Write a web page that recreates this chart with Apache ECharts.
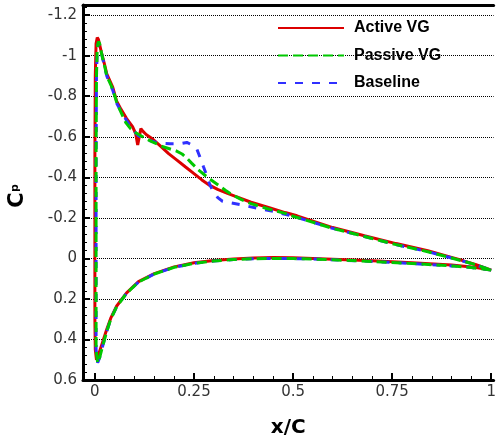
<!DOCTYPE html>
<html>
<head>
<meta charset="utf-8">
<script src="https://cdn.jsdelivr.net/npm/echarts@6/dist/echarts.min.js"></script>
<style>
html,body{margin:0;padding:0;background:#fff;}
#chart{width:499px;height:443px;}
</style>
</head>
<body>
<div id="chart"></div>
<script>
// ---- data (x/C, Cp) ----
var seriesNames = ['Active VG', 'Passive VG', 'Baseline'];

var activeLower = [[0.004,0.50],[0.01,0.47],[0.02,0.41],[0.03,0.35],[0.04,0.295],[0.055,0.235],[0.08,0.17],[0.11,0.115],[0.15,0.075],[0.2,0.042],[0.25,0.022],[0.3,0.01],[0.35,0.003],[0.4,-0.002],[0.45,-0.004],[0.5,-0.003],[0.55,0.0],[0.6,0.004],[0.7,0.012],[0.8,0.022],[0.9,0.033],[0.95,0.042],[1.0,0.058]];
var activeUpper = [[0.004,0.50],[0.001,0.45],[0.0,0.3],[0.0,0.0],[0.0,-0.5],[0.001,-0.9],[0.003,-1.06],[0.006,-1.09],[0.009,-1.08],[0.016,-1.02],[0.024,-0.96],[0.03,-0.91],[0.045,-0.845],[0.055,-0.775],[0.066,-0.735],[0.08,-0.69],[0.095,-0.65],[0.103,-0.615],[0.108,-0.56],[0.11,-0.552],[0.113,-0.61],[0.116,-0.64],[0.122,-0.625],[0.13,-0.61],[0.145,-0.59],[0.165,-0.555],[0.186,-0.517],[0.207,-0.485],[0.228,-0.452],[0.25,-0.418],[0.27,-0.387],[0.29,-0.36],[0.311,-0.339],[0.333,-0.322],[0.353,-0.307],[0.394,-0.277],[0.44,-0.25],[0.48,-0.226],[0.51,-0.21],[0.6,-0.152],[0.68,-0.112],[0.76,-0.073],[0.84,-0.038],[0.9,-0.005],[0.93,0.012],[0.96,0.03],[1.0,0.058]];

var passiveLower = [[0.007,0.515],[0.012,0.49],[0.02,0.43],[0.03,0.36],[0.04,0.30],[0.055,0.238],[0.08,0.172],[0.11,0.117],[0.15,0.077],[0.2,0.044],[0.25,0.025],[0.3,0.013],[0.35,0.006],[0.4,0.002],[0.45,0.0],[0.5,0.001],[0.55,0.003],[0.6,0.007],[0.7,0.015],[0.8,0.025],[0.9,0.037],[0.95,0.045],[1.0,0.058]];
var passiveUpper = [[0.007,0.515],[0.003,0.45],[0.003,0.0],[0.003,-0.5],[0.004,-0.9],[0.006,-1.04],[0.009,-1.07],[0.012,-1.06],[0.018,-1.0],[0.025,-0.945],[0.03,-0.9],[0.045,-0.835],[0.055,-0.77],[0.066,-0.72],[0.078,-0.67],[0.09,-0.64],[0.103,-0.62],[0.125,-0.595],[0.145,-0.575],[0.17,-0.552],[0.186,-0.542],[0.205,-0.53],[0.22,-0.515],[0.232,-0.495],[0.244,-0.47],[0.261,-0.437],[0.286,-0.397],[0.311,-0.362],[0.33,-0.335],[0.344,-0.316],[0.37,-0.29],[0.394,-0.27],[0.436,-0.245],[0.48,-0.222],[0.5,-0.208],[0.6,-0.148],[0.68,-0.108],[0.76,-0.068],[0.84,-0.033],[0.9,-0.002],[0.95,0.025],[1.0,0.058]];

var baselineLower = [[0.007,0.515],[0.012,0.49],[0.02,0.43],[0.03,0.36],[0.04,0.30],[0.055,0.238],[0.08,0.172],[0.11,0.117],[0.15,0.077],[0.2,0.044],[0.25,0.025],[0.3,0.013],[0.35,0.006],[0.4,0.002],[0.45,0.0],[0.5,0.001],[0.55,0.003],[0.6,0.007],[0.7,0.015],[0.8,0.025],[0.9,0.037],[0.95,0.045],[1.0,0.058]];
var baselineUpper = [[0.007,0.515],[0.003,0.45],[0.003,0.0],[0.003,-0.5],[0.004,-0.9],[0.006,-1.03],[0.009,-1.065],[0.012,-1.06],[0.018,-1.0],[0.025,-0.94],[0.03,-0.9],[0.045,-0.83],[0.055,-0.765],[0.066,-0.725],[0.08,-0.68],[0.095,-0.635],[0.11,-0.605],[0.125,-0.59],[0.14,-0.58],[0.155,-0.572],[0.17,-0.568],[0.19,-0.566],[0.215,-0.566],[0.232,-0.572],[0.245,-0.56],[0.257,-0.54],[0.265,-0.5],[0.274,-0.452],[0.282,-0.41],[0.29,-0.363],[0.299,-0.33],[0.31,-0.3],[0.322,-0.282],[0.336,-0.276],[0.37,-0.264],[0.41,-0.247],[0.45,-0.232],[0.5,-0.208],[0.6,-0.148],[0.68,-0.108],[0.76,-0.068],[0.84,-0.033],[0.9,-0.002],[0.95,0.025],[1.0,0.058]];

var xTickValues = [0, 0.25, 0.5, 0.75, 1];
var yTickValues = [-1.2, -1, -0.8, -0.6, -0.4, -0.2, 0, 0.2, 0.4, 0.6];

// ---- helpers ----
function loop(lower, upper) { return lower.slice().reverse().concat(upper); }
function minorTicks(start, end, step, majors) {
  var out = [];
  var n = Math.round((end - start) / step);
  for (var i = 0; i <= n; i++) {
    var v = Math.round((start + i * step) * 1000) / 1000;
    var isMajor = majors.some(function (m) { return Math.abs(m - v) < 1e-6; });
    if (!isMajor) out.push(v);
  }
  return out;
}
var xMinor = minorTicks(0, 1, 0.05, xTickValues);
var yMinor = minorTicks(-1.24, 0.56, 0.04, yTickValues);

var labelFont = { fontFamily: 'DejaVu Sans', fontSize: 15, color: '#333' };
var XMIN = -0.03, XMAX = 1.006, YMIN = -1.25, YMAX = 0.6;

var chart = echarts.init(document.getElementById('chart'), null, { renderer: 'canvas' });
chart.setOption({
  animation: false,
  backgroundColor: '#fff',
  grid: { left: 83, right: 0, top: 5, bottom: 54, containLabel: false },
  legend: {
    orient: 'vertical', left: 277, top: 20, padding: 0,
    itemWidth: 66, itemHeight: 14, itemGap: 11.5,
    data: seriesNames,
    itemStyle: { opacity: 0, color: 'transparent', borderWidth: 0 },
    textStyle: { fontFamily: 'Liberation Sans', fontWeight: 'bold', fontSize: 16, color: '#000', padding: [0, 0, 0, 5] }
  },
  xAxis: [
    {
      type: 'value', min: XMIN, max: XMAX, position: 'bottom',
      axisLine: { show: true, onZero: false, lineStyle: { color: '#000', width: 3 } },
      axisTick: { show: true, inside: true, length: 7, customValues: xTickValues, lineStyle: { color: '#000', width: 2 } },
      axisLabel: Object.assign({ customValues: xTickValues, margin: 5 }, labelFont),
      splitLine: { show: false },
      name: 'x/C', nameLocation: 'middle', nameGap: 38,
      nameTextStyle: { fontFamily: 'DejaVu Sans', fontWeight: 'bold', fontSize: 20, color: '#000' }
    },
    {
      type: 'value', min: XMIN, max: XMAX, position: 'bottom',
      axisLine: { show: false, onZero: false },
      axisTick: { show: true, inside: true, length: 4, customValues: xMinor, lineStyle: { color: '#000', width: 1 } },
      axisLabel: { show: false },
      splitLine: { show: false }
    },
    {
      type: 'value', min: XMIN, max: XMAX, position: 'top',
      axisLine: { show: true, onZero: false, lineStyle: { color: '#000', width: 3 } },
      axisTick: { show: false }, axisLabel: { show: false }, splitLine: { show: false }
    }
  ],
  yAxis: [
    {
      type: 'value', min: YMIN, max: YMAX, inverse: true, position: 'left',
      axisLine: { show: true, onZero: false, lineStyle: { color: '#000', width: 3 } },
      axisTick: { show: true, inside: true, length: 7, customValues: yTickValues, lineStyle: { color: '#000', width: 2 } },
      axisLabel: Object.assign({ customValues: yTickValues, margin: 6 }, labelFont),
      splitLine: { show: true, lineStyle: { color: '#000', width: 1, type: [1, 1] } }
    },
    {
      type: 'value', min: YMIN, max: YMAX, inverse: true, position: 'left',
      axisLine: { show: false, onZero: false },
      axisTick: { show: true, inside: true, length: 4, customValues: yMinor, lineStyle: { color: '#000', width: 1 } },
      axisLabel: { show: false },
      splitLine: { show: false }
    }
  ],
  graphic: [
    { type: 'text', x: 18, y: 200, rotation: Math.PI / 2,
      style: { text: 'C', font: 'bold 21px "DejaVu Sans"', fill: '#000', textAlign: 'center', textVerticalAlign: 'middle' } },
    { type: 'text', x: 15, y: 188, rotation: Math.PI / 2,
      style: { text: 'p', font: 'bold 11px "DejaVu Sans"', fill: '#000', textAlign: 'center', textVerticalAlign: 'middle' } }
  ],
  series: [
    { name: seriesNames[0], type: 'line', xAxisIndex: 0, yAxisIndex: 0, data: loop(activeLower, activeUpper),
      symbol: 'none', showSymbol: false, color: '#dc0000',
      lineStyle: { color: '#dc0000', width: 3, type: 'solid' }, z: 3 },
    { name: seriesNames[2], type: 'line', xAxisIndex: 0, yAxisIndex: 0, data: loop(baselineLower, baselineUpper),
      symbol: 'none', showSymbol: false, color: '#3030ff',
      lineStyle: { color: '#3030ff', width: 3, type: [8, 9] }, z: 4 },
    { name: seriesNames[1], type: 'line', xAxisIndex: 0, yAxisIndex: 0, data: loop(passiveLower, passiveUpper),
      symbol: 'none', showSymbol: false, color: '#00c800',
      lineStyle: { color: '#00c800', width: 3, type: [10, 5] }, z: 5 }
  ]
});
</script>
</body>
</html>
